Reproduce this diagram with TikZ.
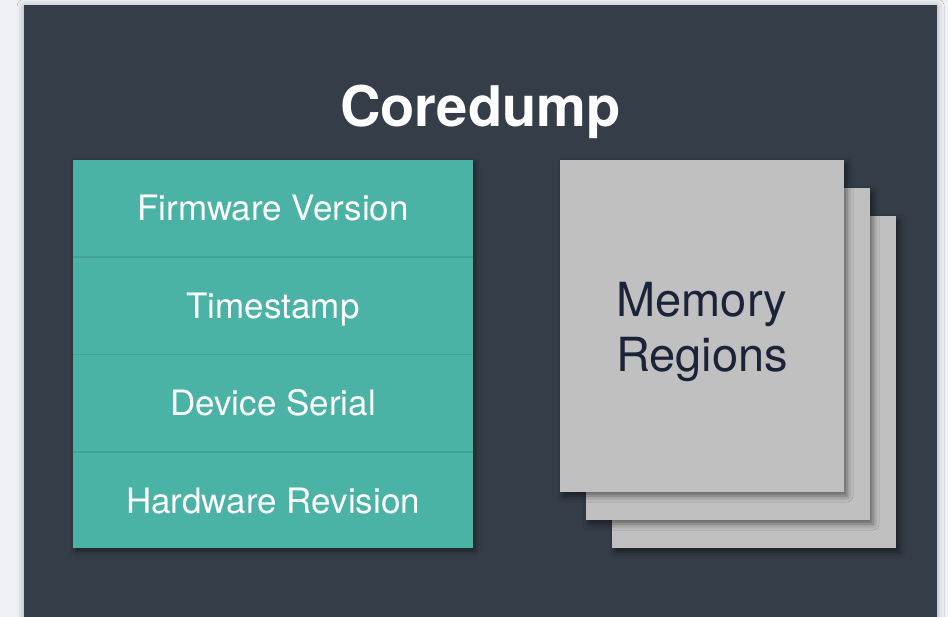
\documentclass[tikz,border=0pt]{standalone}
\usepackage{fontspec}
\setmainfont{TeX Gyre Heros}
\usetikzlibrary{positioning,shadows.blur}

\definecolor{pagebg}{HTML}{EEF1F5}
\definecolor{slate}{HTML}{343D48}
\definecolor{fieldteal}{HTML}{4BB3A6}
\definecolor{septeal}{HTML}{42A395}
\definecolor{sheetgray}{HTML}{C0C0C0}
\definecolor{inkblue}{HTML}{1B2338}

\begin{document}
\begin{tikzpicture}[x=1pt, y=-1pt,
	panel/.style={fill=slate, minimum width=913pt, minimum height=660pt, anchor=north west, inner sep=0pt,
		blur shadow={shadow xshift=0pt, shadow yshift=-1pt, shadow blur radius=7pt, shadow opacity=30}},
	block/.style={fill=fieldteal, minimum width=400pt, minimum height=388pt, inner sep=0pt,
		blur shadow={shadow xshift=2pt, shadow yshift=-3pt, shadow blur radius=5pt, shadow opacity=45}},
	field/.style={minimum width=400pt, minimum height=97pt, inner sep=0pt, text=white,
		font=\fontsize{35}{40}\selectfont, text height=25pt, text depth=0pt},
	sep/.style={septeal, line width=1.8pt},
	sheet/.style={fill=sheetgray, minimum width=284pt, minimum height=332pt, inner sep=0pt,
		blur shadow={shadow xshift=3pt, shadow yshift=-4pt, shadow blur radius=6pt, shadow opacity=50}},
	title/.style={text=white, font=\fontsize{56}{60}\selectfont\bfseries, inner sep=0pt}]
	\useasboundingbox (0,0) rectangle (948,617);
	\fill[pagebg] (0,0) rectangle (948,617);
	\node[panel] (panel) at (24,5) {};
	\node[title, anchor=base] (title) at (480.5,127) {Coredump};

	% metadata block, one row per field
	\node[block] (block) at (273,354) {};
	\node[field, below=0pt of block.north] (firmware) {Firmware Version};
	\node[field, below=0pt of firmware] (timestamp) {Timestamp};
	\node[field, below=0pt of timestamp] (serial) {Device Serial};
	\node[field, below=0pt of serial] (hwrev) {Hardware Revision};
	\foreach \r in {timestamp,serial,hwrev}
		\draw[sep] (\r.north west) -- (\r.north east);

	% stacked memory sheets, back to front
	\node[sheet] (sheet3) at (754,382) {};
	\node[sheet] (sheet2) at (728,354) {};
	\node[sheet] (sheet1) at (702,326) {};
	\node[text=inkblue, align=center, font=\fontsize{47}{55}\selectfont, yshift=-6pt] (memlabel) at (sheet1.center) {Memory\\Regions};
\end{tikzpicture}
\end{document}
